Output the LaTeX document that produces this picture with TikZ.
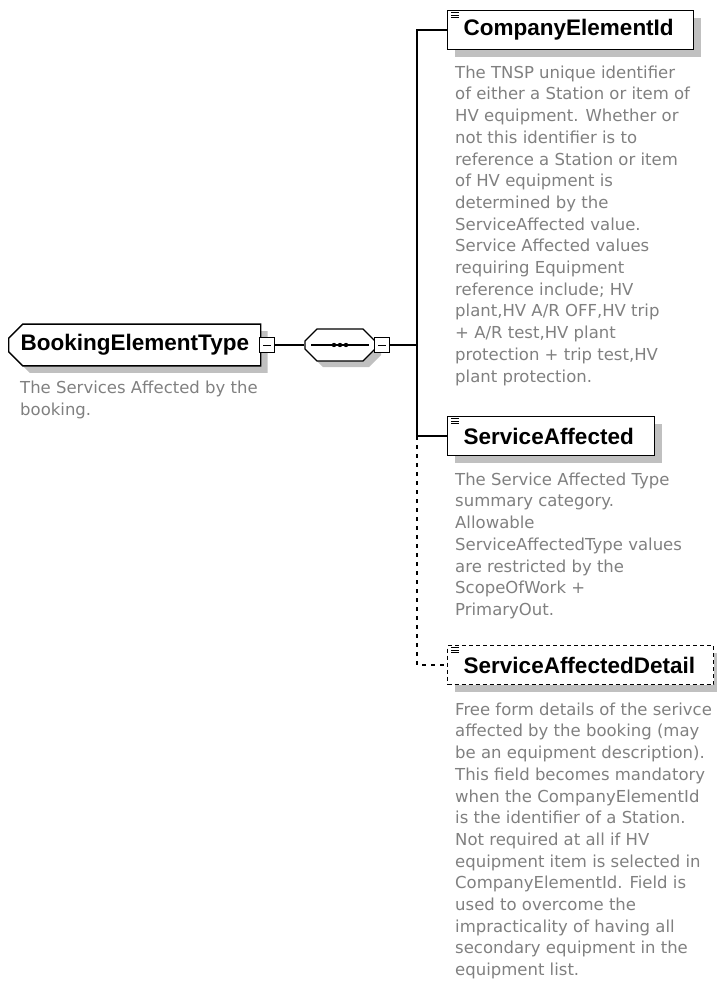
\documentclass[tikz,border=0pt]{standalone}
\usepackage{fontspec}
\setmainfont{DejaVu Sans}
\newfontfamily\elemfont{Liberation Sans}
\usetikzlibrary{shapes.misc,shadows}
\definecolor{docgrey}{RGB}{128,128,128}
\definecolor{shadegrey}{RGB}{192,192,192}
\begin{document}
\begin{tikzpicture}[x=1pt,y=-1pt,
    elem/.style={draw,line width=1.4pt,fill=white,anchor=west,align=left,inner xsep=16pt,text width=#1,
        minimum height=39pt,font=\elemfont\bfseries\fontsize{22.5}{26}\selectfont,
        drop shadow={shadow xshift=7pt,shadow yshift=-7pt,fill=shadegrey,opacity=1}},
    optelem/.style={elem=#1,dash pattern=on 4pt off 3pt},
    seqbox/.style={chamfered rectangle,chamfered rectangle sep=6pt,draw,line width=1.4pt,fill=white,
        minimum width=70pt,minimum height=30pt,inner xsep=20pt,inner ysep=10pt,
        drop shadow={shadow xshift=6pt,shadow yshift=-6pt,fill=shadegrey,opacity=1}},
    doc/.style={anchor=north west,align=left,inner sep=0pt,text=docgrey,font=\fontsize{16.5}{21.7}\selectfont},
    collapse/.style={draw,line width=1pt,fill=white,minimum size=15pt,inner sep=0pt},
    conn/.style={line width=1.4pt},
    optconn/.style={conn,dash pattern=on 4pt off 5pt}]
    \useasboundingbox (0,0) rectangle (716,988);
    \node[elem=228,chamfered rectangle,chamfered rectangle corners={north west,south west},
        chamfered rectangle sep=7pt,inner xsep=5pt] (booking) at (8,345) {BookingElementType};
    \node[collapse] (bookingminus) at (267,345) {};
    \node[seqbox] (seq) at (340,345) {};
    \node[collapse] (seqminus) at (382,345) {};
    \coordinate (bus) at (417,345);
    \node[elem=214] (companyid) at (447,30) {CompanyElementId};
    \node[elem=175] (affected) at (447,436) {ServiceAffected};
    \node[optelem=234] (affecteddetail) at (447,665) {ServiceAffectedDetail};
    \draw[conn] (bookingminus) -- (seq);
    \draw[conn] (seqminus) -- (bus);
    \draw[conn] (bus) |- (companyid.west);
    \draw[conn] (bus) |- (affected.west);
    \coordinate (busend) at (affected.west -| bus);
    \draw[optconn] (busend) |- (affecteddetail.west);
    \draw[line width=1.2pt] ([xshift=7pt]seq.west) -- ([xshift=-7pt]seq.east);
    \foreach \dx in {-6,0,6}
        \fill ([xshift=\dx pt]seq.center) circle (2.2pt);
    \foreach \m in {bookingminus,seqminus}
        \draw[line width=1pt] ([xshift=-4pt]\m.center) -- ([xshift=4pt]\m.center);
    \foreach \n in {companyid,affected,affecteddetail}
        \foreach \k in {3,5.5,8}
            \draw[line width=0.9pt] ([xshift=4pt,yshift=-\k pt]\n.north west) -- ++(8,0);
    \node[doc] (bookingdoc) at (20,381) {The Services Affected by the\\booking.};
    \node[doc] (companyiddoc) at (455,65.5) {The TNSP unique identifier\\of either a Station or item of\\HV equipment. Whether or\\not this identifier is to\\reference a Station or item\\of HV equipment is\\determined by the\\ServiceAffected value.\\Service Affected values\\requiring Equipment\\reference include; HV\\plant,HV A/R OFF,HV trip\\+ A/R test,HV plant\\protection + trip test,HV\\plant protection.};
    \node[doc] (affecteddoc) at (455,472.5) {The Service Affected Type\\summary category.\\Allowable\\ServiceAffectedType values\\are restricted by the\\ScopeOfWork +\\PrimaryOut.};
    \node[doc] (affecteddetaildoc) at (455,702.5) {Free form details of the serivce\\affected by the booking (may\\be an equipment description).\\This field becomes mandatory\\when the CompanyElementId\\is the identifier of a Station.\\Not required at all if HV\\equipment item is selected in\\CompanyElementId. Field is\\used to overcome the\\impracticality of having all\\secondary equipment in the\\equipment list.};
\end{tikzpicture}
\end{document}
